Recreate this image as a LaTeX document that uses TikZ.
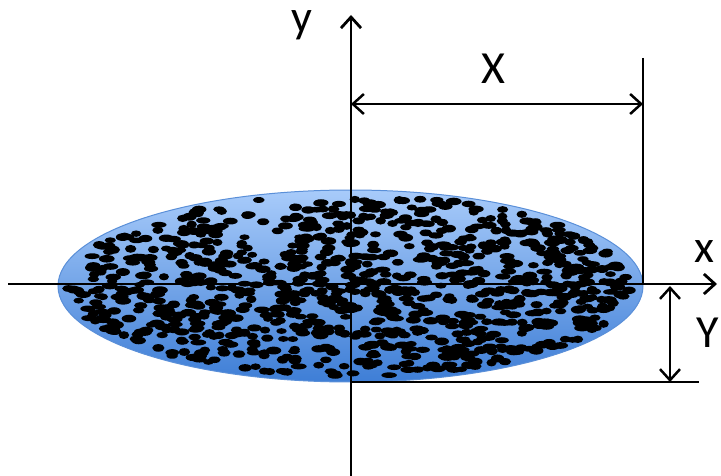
\documentclass[tikz,border=0pt]{standalone}
\usepackage{fontspec}
\setmainfont{Carlito}
\usepackage{xcolor}
\usetikzlibrary{arrows.meta}
\definecolor{disktop}{HTML}{A8CBFA}
\definecolor{diskbot}{HTML}{3E7ED6}
\definecolor{diskedge}{HTML}{5A8FD8}
\tikzset{
  axis/.style={line width=2.8pt,black},
  dim/.style={line width=2.5pt,black},
  lbl/.style={font=\fontsize{46}{50}\selectfont,anchor=base,inner sep=0pt}
}
\begin{document}
\begin{tikzpicture}[x=1pt,y=-1pt,>={Straight Barb[length=11pt,width=20pt]}]
\useasboundingbox (0,0) rectangle (721,476);
% disk with particles
\shade[top color=disktop,bottom color=diskbot,draw=diskedge,line width=1pt]
  (350.5,286) ellipse [x radius=292.5,y radius=96];
\pgfmathsetseed{4242}
\foreach \i in {1,...,980}{
  \pgfmathsetmacro\ang{360*rnd}
  \pgfmathsetmacro\rad{sqrt(rnd)*0.99}
  \pgfmathsetmacro\dx{5+3*rnd}
  \pgfmathsetmacro\dy{2.8+1.2*rnd}
  \fill[black] ({350.5+285*\rad*cos(\ang)},{286+92*\rad*sin(\ang)})
    ellipse [x radius=\dx,y radius=\dy];
}
% axes
\coordinate (xl) at (8,284);
\coordinate (xr) at (717,284);
\coordinate (yb) at (351,476);
\coordinate (yt) at (351,15);
\draw[axis,->] (xl) -- (xr);
\draw[axis,->] (yb) -- (yt);
\node[lbl] (xlab) at (704,262) {x};
\node[lbl] (ylab) at (302,33) {y};
% dimension X
\coordinate (xe) at (643,58);
\coordinate (xf) at (643,284);
\coordinate (xa) at (351,104);
\coordinate (xb) at (643,104);
\draw[dim] (xe) -- (xf);
\draw[dim,<->] (xa) -- (xb);
\node[lbl] (Xlab) at (493,84) {X};
% dimension Y
\coordinate (ya) at (670,286);
\coordinate (yc) at (670,382);
\coordinate (yl) at (351,382);
\coordinate (yr) at (699,382);
\draw[dim] (yl) -- (yr);
\draw[dim,<->] (ya) -- (yc);
\node[lbl] (Ylab) at (708,347) {Y};
\end{tikzpicture}
\end{document}
